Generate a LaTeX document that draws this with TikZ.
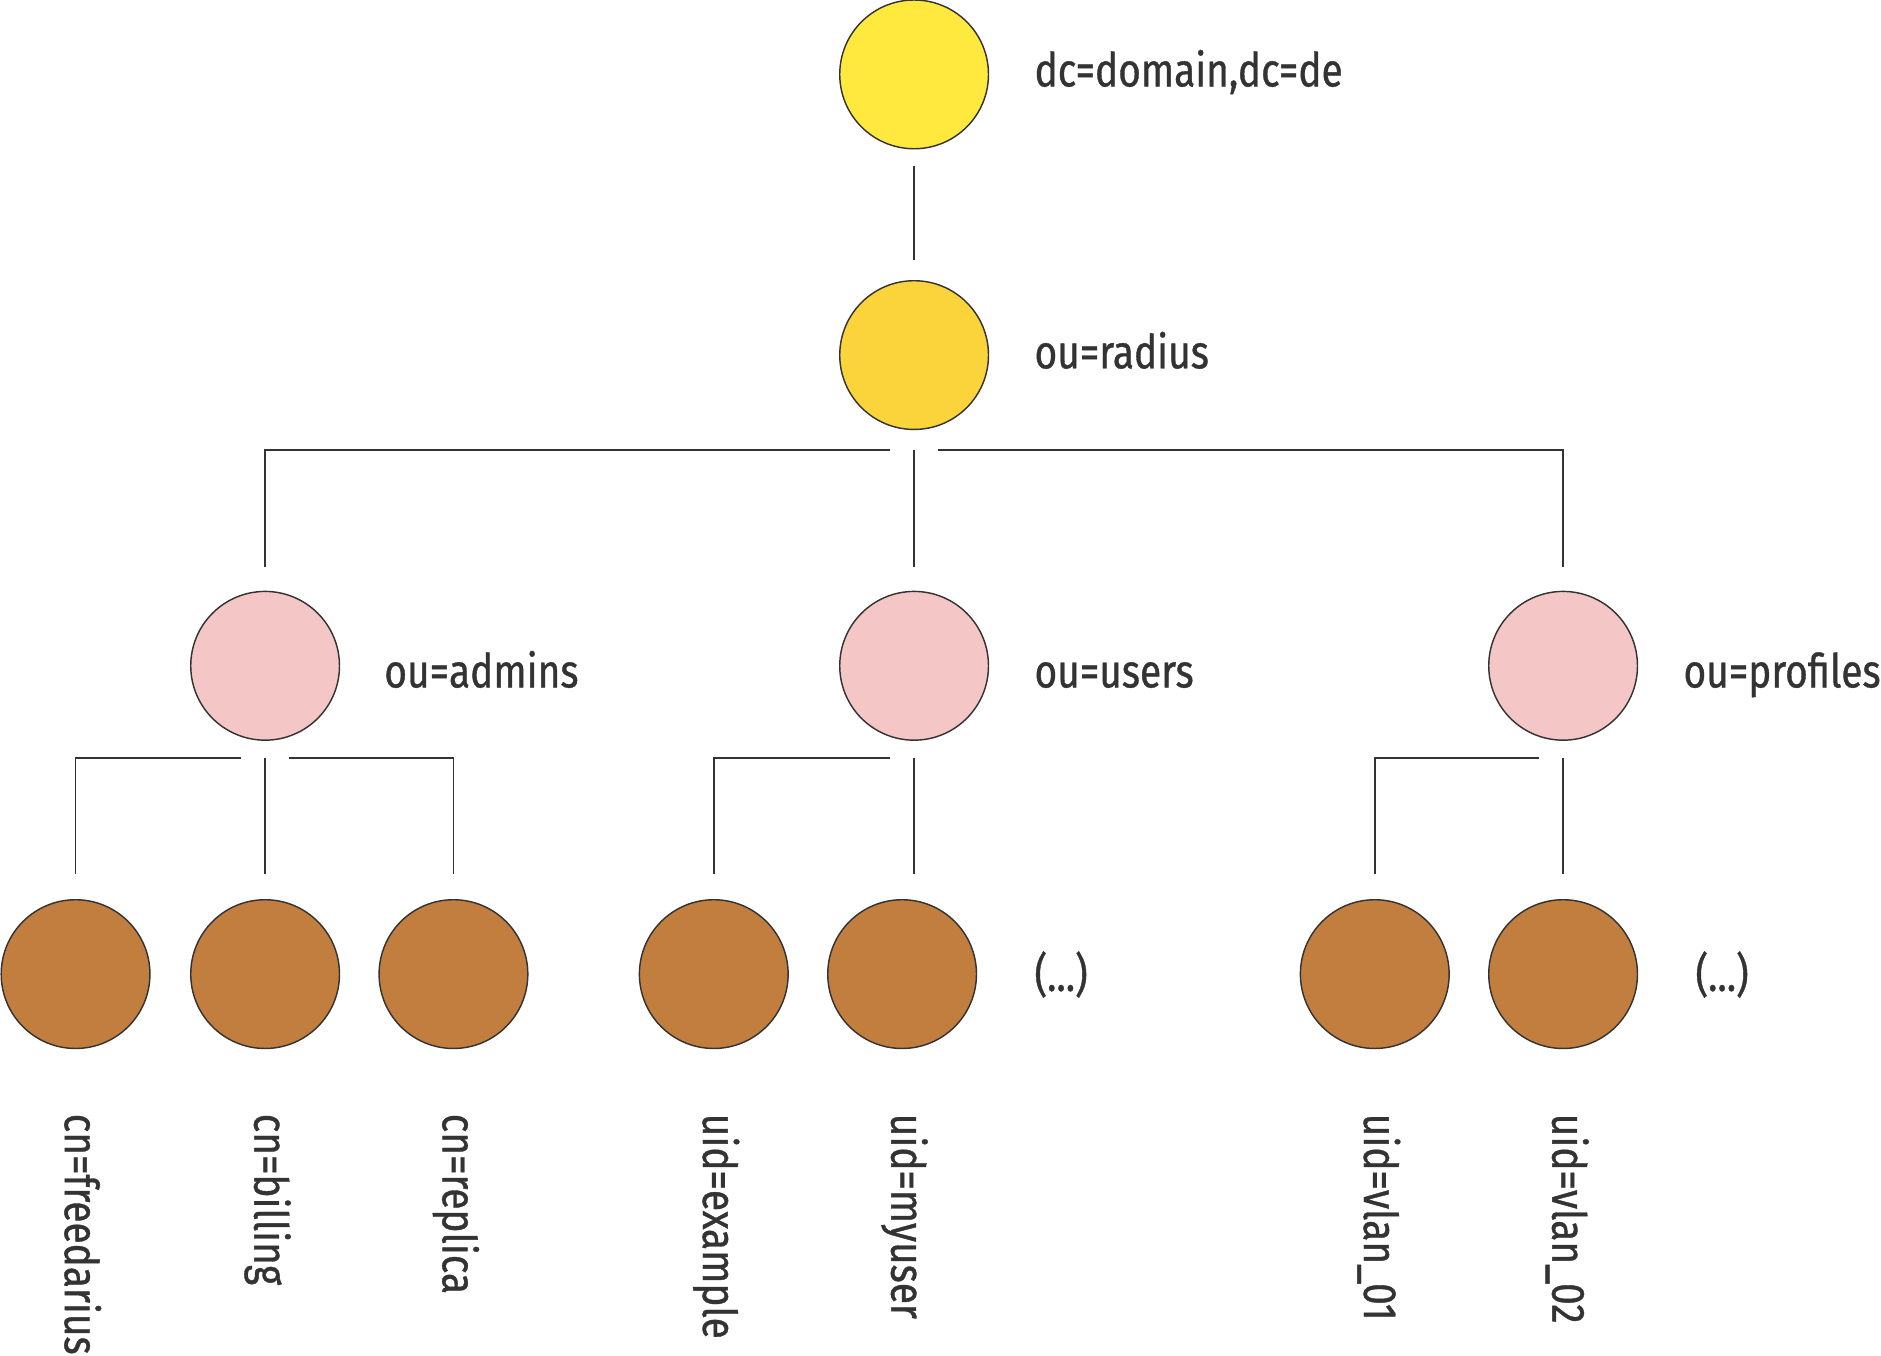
\documentclass[tikz,border=0pt]{standalone}
\usepackage{fontspec}
\setmainfont{Fira Sans}[FakeStretch=0.83, FakeBold=0.8]
\usepackage{xcolor}
\definecolor{rootyellow}{HTML}{FFE93F}
\definecolor{ouyellow}{HTML}{FAD43A}
\definecolor{oupink}{HTML}{F4C6C6}
\definecolor{leafbrown}{HTML}{C27E3E}
\definecolor{inkgray}{HTML}{333333}
\tikzset{
  entry/.style={circle, draw=inkgray, line width=0.6pt, minimum size=62pt, inner sep=0pt},
  link/.style={draw=inkgray, line width=0.6pt},
  dn/.style={text=inkgray, font=\fontsize{19.5pt}{22pt}\selectfont, inner sep=0pt, anchor=base west},
  dnrot/.style={dn, rotate=-90}
}

\begin{document}
\begin{tikzpicture}[x=0.5pt, y=-0.5pt]
\useasboundingbox (0,0) rectangle (1568,1130);
% tree
\node[entry, fill=rootyellow] (root) at (762,62) {};
\node[entry, fill=ouyellow] (radius) at (762,296) {};
\node[entry, fill=oupink] (admins) at (221,555) {};
\node[entry, fill=oupink] (users) at (762,555) {};
\node[entry, fill=oupink] (profiles) at (1303,555) {};
\node[entry, fill=leafbrown] (freedarius) at (63,812) {};
\node[entry, fill=leafbrown] (billing) at (221,812) {};
\node[entry, fill=leafbrown] (replica) at (378,812) {};
\node[entry, fill=leafbrown] (example) at (595,812) {};
\node[entry, fill=leafbrown] (myuser) at (752,812) {};
\node[entry, fill=leafbrown] (vlan1) at (1146,812) {};
\node[entry, fill=leafbrown] (vlan2) at (1303,812) {};
% names
\node[dn] (rootname) at ([shift={(100,10)}]root) {dc=domain,dc=de};
\node[dn] (radiusname) at ([shift={(100,11)}]radius) {ou=radius};
\node[dn] (adminsname) at ([shift={(99,18)}]admins) {ou=admins};
\node[dn] (usersname) at ([shift={(100,18)}]users) {ou=users};
\node[dn] (profilesname) at ([shift={(100,18)}]profiles) {ou=profiles};
\node[dn] (usersmore) at ([shift={(110,14)}]myuser) {(...)};
\node[dn] (profilesmore) at ([shift={(110,14)}]vlan2) {(...)};
\node[dnrot] (freedariusname) at ([shift={(-9,116)}]freedarius) {cn=freedarius};
\node[dnrot] (billingname) at ([shift={(-9,116)}]billing) {cn=billing};
\node[dnrot] (replicaname) at ([shift={(-9,116)}]replica) {cn=replica};
\node[dnrot] (examplename) at ([shift={(-9,116)}]example) {uid=example};
\node[dnrot] (myusername) at ([shift={(-9,116)}]myuser) {uid=myuser};
\node[dnrot] (vlan1name) at ([shift={(-9,116)}]vlan1) {uid=vlan\_01};
\node[dnrot] (vlan2name) at ([shift={(-9,116)}]vlan2) {uid=vlan\_02};
% connectors
\coordinate (busradius) at (762,375);
\coordinate (busadmins) at (221,632);
\coordinate (bususers) at (762,632);
\coordinate (busprofiles) at (1303,632);
\draw[link, shorten <=7pt, shorten >=8.5pt] (root) -- (radius);
\draw[link, shorten <=10pt] (admins) |- ([xshift=-10pt]busradius);
\draw[link, shorten <=10pt] (profiles) |- ([xshift=10pt]busradius);
\draw[link, shorten >=10pt] (busradius) -- (users);
\draw[link, shorten <=10.5pt] (freedarius) |- ([xshift=-10pt]busadmins);
\draw[link, shorten <=10.5pt] (replica) |- ([xshift=10pt]busadmins);
\draw[link, shorten >=10.5pt] (busadmins) -- (billing);
\draw[link, shorten <=10.5pt] (example) |- ([xshift=-10pt]bususers);
\draw[link, shorten >=10.5pt] (bususers) -- (bususers |- myuser.north);
\draw[link, shorten <=10.5pt] (vlan1) |- ([xshift=-10pt]busprofiles);
\draw[link, shorten >=10.5pt] (busprofiles) -- (vlan2);
\end{tikzpicture}
\end{document}
